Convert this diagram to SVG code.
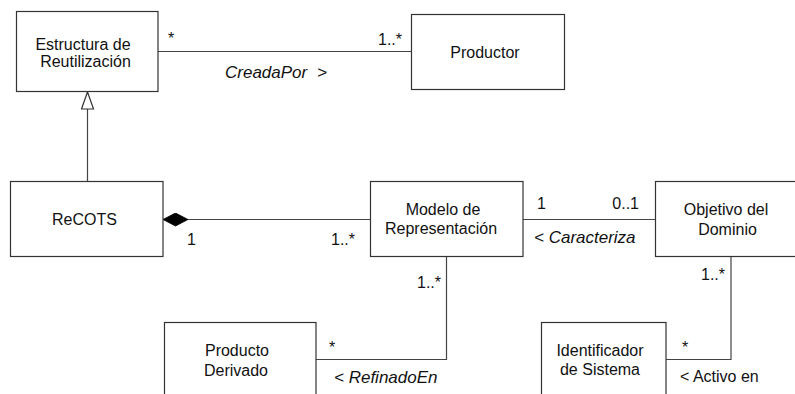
<svg xmlns="http://www.w3.org/2000/svg" width="795" height="394" viewBox="0 0 795 394">
  <style>
    .box { fill: #ffffff; stroke: #333333; stroke-width: 1.2; }
    .edge { fill: none; stroke: #444444; stroke-width: 1.2; }
    text { font-family: "Liberation Sans", Arial, Helvetica, sans-serif; fill: #111111; }
    .name { font-size: 16px; text-anchor: middle; }
    .mult { font-size: 16px; }
    .role { font-size: 17px; font-style: italic; }
    .roleplain { font-size: 16px; }
  </style>
  <defs>
    <!-- filled diamond: composition (whole end) -->
    <marker id="composition" markerUnits="userSpaceOnUse" viewBox="0 0 25 14" refX="25" refY="7" markerWidth="25" markerHeight="14" orient="auto">
      <path d="M0,7 L12.5,0.5 L25,7 L12.5,13.5 Z" fill="#000000" stroke="#000000" stroke-width="0.8"/>
    </marker>
    <!-- hollow triangle: generalization -->
    <marker id="generalization" markerUnits="userSpaceOnUse" viewBox="0 0 19 14" refX="18" refY="7" markerWidth="19" markerHeight="14" orient="auto">
      <path d="M1,1 L18,7 L1,13 Z" fill="#ffffff" stroke="#333333" stroke-width="1.2"/>
    </marker>
  </defs>

  <!-- associations and relations -->
  <g id="connectors">
    <path class="edge" d="M158,51.5 H411"/>
    <path class="edge" d="M87.5,181 V92" marker-end="url(#generalization)"/>
    <path class="edge" d="M370,219.5 H163" marker-end="url(#composition)"/>
    <path class="edge" d="M523,219.5 H655"/>
    <path class="edge" d="M446.5,256 V359.5 H316"/>
    <path class="edge" d="M731,256 V359.5 H666"/>

    <!-- labels and multiplicities -->
    <text class="mult" x="168" y="44">*</text>
    <text class="mult" x="402" y="45" text-anchor="end">1..*</text>
    <text class="role" x="225" y="78">CreadaPor</text>
    <text class="role" x="317" y="78">&gt;</text>

    <text class="mult" x="187" y="245">1</text>
    <text class="mult" x="355" y="245" text-anchor="end">1..*</text>

    <text class="mult" x="537" y="208.5">1</text>
    <text class="mult" x="639" y="208.5" text-anchor="end">0..1</text>
    <text class="role" x="534" y="243">&lt; Caracteriza</text>

    <text class="mult" x="441" y="288" text-anchor="end">1..*</text>
    <text class="mult" x="329" y="352.5">*</text>
    <text class="role" x="334" y="383">&lt; RefinadoEn</text>

    <text class="mult" x="725" y="279.5" text-anchor="end">1..*</text>
    <text class="mult" x="682" y="352.5">*</text>
    <text class="roleplain" x="680" y="382">&lt; Activo en</text>
  </g>

  <g id="estructura-reutilizacion">
    <rect class="box" x="16.5" y="11.5" width="141.5" height="80"/>
    <text class="name" x="83" y="50">Estructura de</text>
    <text class="name" x="85.5" y="67">Reutilización</text>
  </g>

  <g id="productor">
    <rect class="box" x="411.5" y="14.5" width="153" height="75"/>
    <text class="name" x="485" y="57.5">Productor</text>
  </g>

  <g id="recots">
    <rect class="box" x="10.5" y="181.5" width="152.5" height="75"/>
    <text class="name" x="84.5" y="225">ReCOTS</text>
  </g>

  <g id="modelo-representacion">
    <rect class="box" x="370.5" y="181.5" width="152.5" height="75"/>
    <text class="name" x="443" y="215">Modelo de</text>
    <text class="name" x="441" y="234">Representación</text>
  </g>

  <g id="objetivo-dominio">
    <rect class="box" x="655.5" y="181.5" width="160" height="75"/>
    <text class="name" x="726" y="215">Objetivo del</text>
    <text class="name" x="727.5" y="235">Dominio</text>
  </g>

  <g id="producto-derivado">
    <rect class="box" x="164.5" y="322.5" width="151.5" height="90"/>
    <text class="name" x="237" y="355.5">Producto</text>
    <text class="name" x="236" y="376">Derivado</text>
  </g>

  <g id="identificador-sistema">
    <rect class="box" x="541.5" y="322.5" width="124.5" height="90"/>
    <text class="name" x="600" y="356">Identificador</text>
    <text class="name" x="600" y="375">de Sistema</text>
  </g>
</svg>
